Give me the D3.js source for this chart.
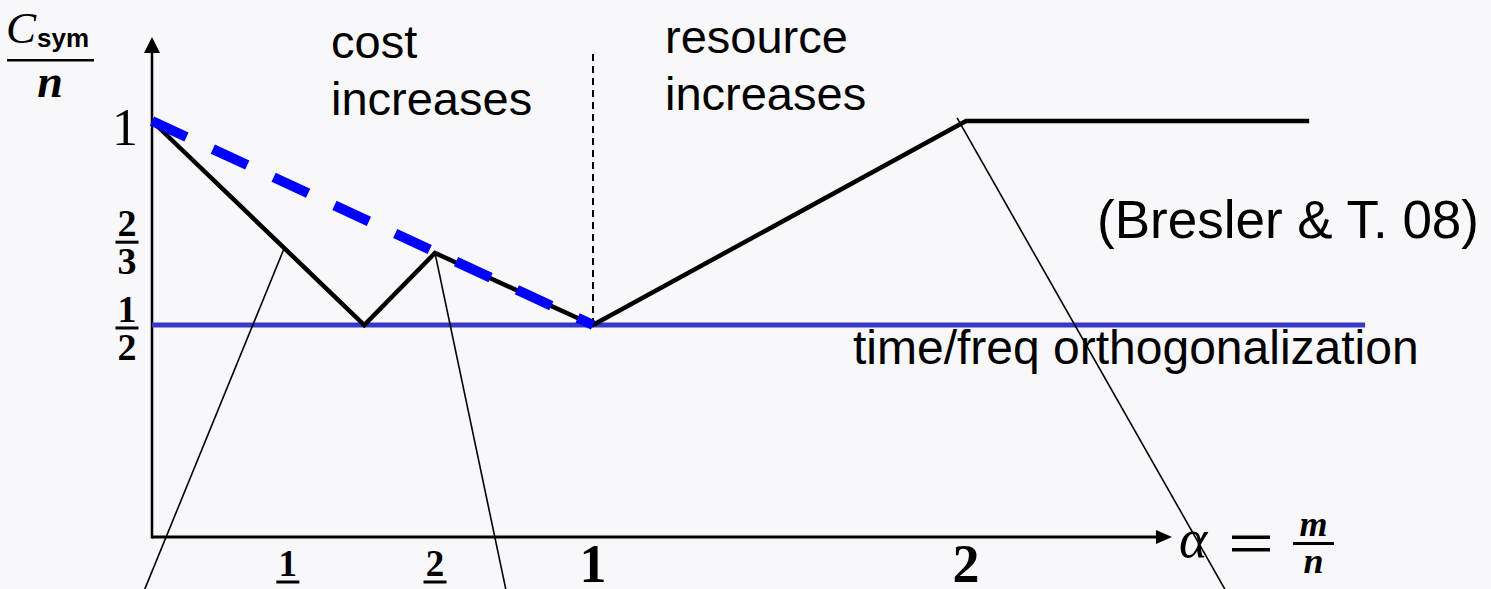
<!DOCTYPE html>
<html>
<head>
<meta charset="utf-8">
<script src="https://cdn.jsdelivr.net/npm/d3@7"></script>
<style>
  html, body { margin: 0; padding: 0; background: #f8f8fa; }
  svg { display: block; }
</style>
</head>
<body>
<svg id="chart" width="1491" height="589"></svg>
<script>
// Normalised symmetric capacity C_sym / n as a function of alpha = m / n
const alphaKnots = [0, 0.5, 2 / 3, 1, 2, 2.92];
const capacityValues = [1, 0.5, 2 / 3, 0.5, 1, 1];

// straight-line comparison (dashed blue)
const boundAlpha = [0, 1];
const boundValues = [1, 0.5];

// time/frequency orthogonalisation level
const orthoAlpha = [0, 3.07];
const orthoValue = 0.5;

// separator between the two regimes
const regimeSplitAlpha = 1;
const regimeSplitRange = [0.5, 1.18];

// leader lines running off the bottom edge
const leaderFrom = [[0.31, 0.675], [2 / 3, 2 / 3], [1.976, 1.008]];
const leaderTo = [[-0.017, -0.123], [0.816, -0.123], [2.694, -0.123]];

// tick labels and where they sit (in axis units)
const xTickAt = [0.32, 2 / 3, 1, 2];
const xTickLabels = [["1", "2"], ["2", "3"], ["1"], ["2"]];
const yTickAt = [1, 0.694, 0.493];
const yTickLabels = [["1"], ["2", "3"], ["1", "2"]];

const svg = d3.select("#chart");
const W = 1491, H = 589;

svg.append("rect").attr("width", W).attr("height", H).attr("fill", "#f8f8fa");

// hand-drawn axes are not uniform, so both scales are piecewise linear
const x = d3.scaleLinear().domain([0, 2 / 3, 1, 2, 3]).range([152, 435, 593, 966, 1339]);
const y = d3.scaleLinear().domain([0, 0.5, 2 / 3, 1]).range([537, 325, 253, 121]);

const line = d3.line().x(d => x(d[0])).y(d => y(d[1]));

const serif = "'Liberation Serif', 'Times New Roman', serif";
const sans = "'Liberation Sans', Arial, sans-serif";

// ---- axes with arrow heads ----
const ox = x(0), oy = y(0);
const xEnd = 1172, yEnd = 37;
const axes = svg.append("g");
axes.append("line").attr("x1", ox).attr("y1", oy).attr("x2", xEnd - 12).attr("y2", oy)
  .attr("stroke", "#000").attr("stroke-width", 3);
axes.append("path")
  .attr("d", `M${xEnd},${oy} L${xEnd - 16},${oy - 7} L${xEnd - 16},${oy + 7} Z`)
  .attr("fill", "#000");
axes.append("line").attr("x1", ox).attr("y1", oy + 1.5).attr("x2", ox).attr("y2", yEnd + 12)
  .attr("stroke", "#000").attr("stroke-width", 2.5);
axes.append("path")
  .attr("d", `M${ox},${yEnd} L${ox - 8},${yEnd + 16} L${ox + 8},${yEnd + 16} Z`)
  .attr("fill", "#000");

// ---- regime separator ----
svg.append("line")
  .attr("x1", x(regimeSplitAlpha)).attr("x2", x(regimeSplitAlpha))
  .attr("y1", y(regimeSplitRange[0])).attr("y2", y(regimeSplitRange[1]))
  .attr("stroke", "#000").attr("stroke-width", 2).attr("stroke-dasharray", "7,5");

// ---- orthogonalisation level ----
svg.append("path")
  .attr("d", line(orthoAlpha.map(a => [a, orthoValue])))
  .attr("fill", "none").attr("stroke", "#3737c8").attr("stroke-width", 5);

// ---- capacity curve ----
svg.append("path")
  .attr("d", line(alphaKnots.map((a, i) => [a, capacityValues[i]])))
  .attr("fill", "none").attr("stroke", "#000").attr("stroke-width", 4.5)
  .attr("stroke-linejoin", "miter");

// ---- dashed straight line ----
svg.append("path")
  .attr("d", line(boundAlpha.map((a, i) => [a, boundValues[i]])))
  .attr("fill", "none").attr("stroke", "#0000ff").attr("stroke-width", 10)
  .attr("stroke-dasharray", "38,29");

// ---- text annotations ----
const note = (txt, px, py, size, anchor) => svg.append("text")
  .attr("x", px).attr("y", py).attr("font-family", sans).attr("font-size", size)
  .attr("text-anchor", anchor || "start").attr("fill", "#000").text(txt);

note("cost", 331, 58, 47);
note("increases", 331, 115, 47);
note("resource", 665, 53, 47);
note("increases", 665, 110, 47);
note("(Bresler & T. 08)", 1479, 238, 53, "end");
note("time/freq orthogonalization", 853, 364, 48);

// ---- fraction helper ----
function fraction(g, cx, barY, num, den, size, width) {
  g.append("text").attr("x", cx).attr("y", barY - 6)
    .attr("font-family", serif).attr("font-weight", "bold").attr("font-size", size)
    .attr("text-anchor", "middle").text(num);
  g.append("rect").attr("x", cx - width / 2).attr("y", barY - 1.5)
    .attr("width", width).attr("height", 3).attr("fill", "#000");
  g.append("text").attr("x", cx).attr("y", barY + 32)
    .attr("font-family", serif).attr("font-weight", "bold").attr("font-size", size)
    .attr("text-anchor", "middle").text(den);
}

// ---- y tick labels ----
const yTicks = svg.append("g");
yTickAt.forEach((v, i) => {
  const lab = yTickLabels[i];
  if (lab.length === 1) {
    yTicks.append("text").attr("x", 138).attr("y", y(v) + 24)
      .attr("font-family", serif).attr("font-size", 52)
      .attr("text-anchor", "end").text(lab[0]);
  } else {
    fraction(yTicks, 127, y(v), lab[0], lab[1], 38, 23);
  }
});

// ---- x tick labels ----
const xTicks = svg.append("g");
xTickAt.forEach((v, i) => {
  const lab = xTickLabels[i];
  if (lab.length === 1) {
    xTicks.append("text").attr("x", x(v)).attr("y", 582)
      .attr("font-family", serif).attr("font-weight", "bold").attr("font-size", 54)
      .attr("text-anchor", "middle").text(lab[0]);
  } else {
    fraction(xTicks, x(v), 582, lab[0], lab[1], 37, 23);
  }
});

// ---- axis titles ----
const yt = svg.append("g");
yt.append("text").attr("x", 6).attr("y", 43)
  .attr("font-family", serif).attr("font-style", "italic").attr("font-size", 45).text("C");
yt.append("text").attr("x", 37).attr("y", 47)
  .attr("font-family", sans).attr("font-weight", "bold").attr("font-size", 26).text("sym");
yt.append("rect").attr("x", 7).attr("y", 59).attr("width", 87).attr("height", 2.5).attr("fill", "#000");
yt.append("text").attr("x", 50).attr("y", 97)
  .attr("font-family", serif).attr("font-style", "italic").attr("font-weight", "bold")
  .attr("font-size", 46).attr("text-anchor", "middle").text("n");

const xt = svg.append("g");
xt.append("text").attr("x", 1179).attr("y", 557)
  .attr("font-family", serif).attr("font-style", "italic").attr("font-size", 54).text("α");
xt.append("rect").attr("x", 1232).attr("y", 535.5).attr("width", 38).attr("height", 3.5).attr("fill", "#000");
xt.append("rect").attr("x", 1232).attr("y", 548).attr("width", 38).attr("height", 3.5).attr("fill", "#000");
xt.append("text").attr("x", 1313.5).attr("y", 536)
  .attr("font-family", serif).attr("font-style", "italic").attr("font-weight", "bold")
  .attr("font-size", 36).attr("text-anchor", "middle").text("m");
xt.append("rect").attr("x", 1293).attr("y", 542).attr("width", 41).attr("height", 3).attr("fill", "#000");
xt.append("text").attr("x", 1313.5).attr("y", 573)
  .attr("font-family", serif).attr("font-style", "italic").attr("font-weight", "bold")
  .attr("font-size", 36).attr("text-anchor", "middle").text("n");

// ---- leader lines (drawn last, on top) ----
svg.append("g").selectAll("line").data(leaderFrom).join("line")
  .attr("x1", d => x(d[0])).attr("y1", d => y(d[1]))
  .attr("x2", (d, i) => x(leaderTo[i][0])).attr("y2", (d, i) => y(leaderTo[i][1]))
  .attr("stroke", "#000").attr("stroke-width", 1.6);
</script>
</body>
</html>
